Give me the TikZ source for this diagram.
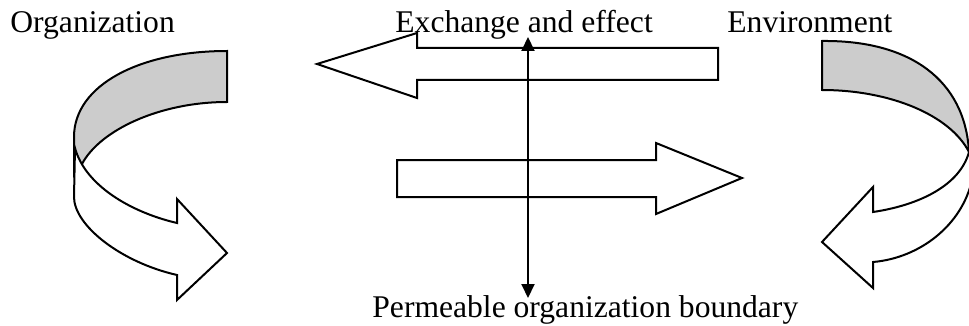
\documentclass[tikz,border=0pt]{standalone}
\usepackage{fontspec}
\setmainfont{Liberation Serif}
\usetikzlibrary{arrows.meta}
\definecolor{bandgray}{RGB}{204,204,204}
\begin{document}
\begin{tikzpicture}[x=0.5pt,y=-0.5pt,
  outline/.style={draw=black,line width=1pt,line join=miter},
  backband/.style={outline,fill=bandgray},
  frontband/.style={outline,fill=white},
  caption/.style={font=\fontsize{15.8}{19}\selectfont,inner sep=0pt,anchor=base west},
  boundary/.style={line width=1pt,{Triangle[length=7pt,width=6.5pt]}-{Triangle[length=7pt,width=6.5pt]}}]
\useasboundingbox (0,0) rectangle (969,326);
\begin{scope}
\clip (0,0) rectangle (969,326);
% organization loop: back of the ribbon
\path[backband] (227,51) .. controls (140,51) and (74,85) .. (74,137)
  -- (74,175) -- (82,164)
  .. controls (100,130) and (160,102) .. (227,102) -- cycle;
% organization loop: front of the ribbon with its head
\path[frontband] (75,148) -- (74,197)
  .. controls (74,225) and (120,262) .. (177,275)
  -- (177,300) -- (227,253) -- (177,199) -- (177,223)
  .. controls (130,212) and (85,185) .. (75,148) -- cycle;
% environment loop: back of the ribbon
\path[backband] (822,41) .. controls (910,40) and (965,80) .. (969,152)
  .. controls (950,115) and (890,90) .. (822,90) -- cycle;
% environment loop: front of the ribbon with its head
\path[frontband] (969,152) .. controls (960,185) and (920,205) .. (873,212)
  -- (873,187) -- (822,242) -- (873,288) -- (873,262)
  .. controls (920,258) and (962,225) .. (972,180) -- (975,152) -- cycle;
\end{scope}
% exchange arrows
\path[frontband] (317,64) -- (417,33) -- (417,48) -- (718,48) -- (718,80)
  -- (417,80) -- (417,98) -- cycle;
\path[frontband] (397,160) -- (656,160) -- (656,143) -- (742,178)
  -- (656,214) -- (656,197) -- (397,197) -- cycle;
% permeable boundary
\coordinate (btop) at (528,37);
\coordinate (bbot) at (528,298);
\draw[boundary] (bbot) -- (btop);
% captions
\node[caption] (org) at (10,33) {Organization};
\node[caption] (exch) at (395,33) {Exchange and effect};
\node[caption] (env) at (727,33) {Environment};
\node[caption] (perm) at (372,317) {Permeable organization boundary};
\end{tikzpicture}
\end{document}
